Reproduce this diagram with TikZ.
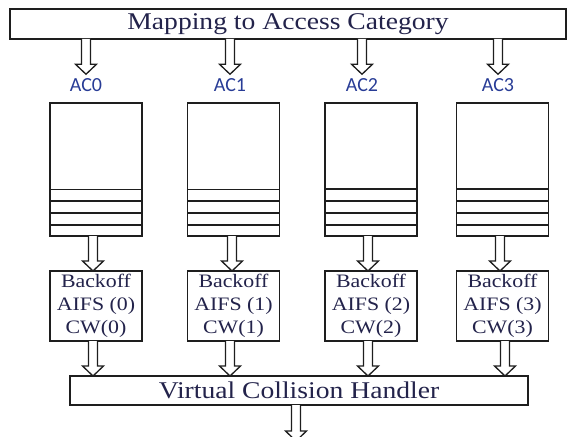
\documentclass[tikz,border=0pt]{standalone}
\usepackage{fontspec}
\setmainfont{Liberation Serif}
\newfontfamily\stserif[FakeStretch=1.15]{Liberation Serif}
\newfontfamily\acfont{Carlito}
\usetikzlibrary{calc}
\definecolor{txt}{RGB}{35,35,75}
\definecolor{actxt}{RGB}{40,60,150}
\definecolor{ln}{RGB}{30,30,30}
\tikzset{
  box/.style={draw=ln, line width=1.4pt, fill=white, inner sep=0pt, outer sep=0pt, text=txt},
  header/.style={box, font=\stserif\fontsize{24}{28}\selectfont},
  queue/.style={box, minimum width=92pt, minimum height=133pt},
  backoff/.style={box, minimum width=92pt, minimum height=70pt, align=center,
    font=\stserif\fontsize{19}{23}\selectfont},
  aclabel/.style={text=actxt, font=\acfont\fontsize{20}{24}\selectfont, inner xsep=0pt, inner ysep=4pt},
  harrow/.style={draw=ln, line width=1.3pt, fill=white, line join=miter},
  stripe/.style={draw=ln},
}
% hollow arrow: #1 = x position, #2 = start node/anchor, #3 = end node/anchor
\newcommand\hollowarrow[3]{%
  \draw[harrow] let \p1=(#2), \p2=(#3) in
    (#1pt-4.5pt,\y1) -- (#1pt-4.5pt,\y2+10pt) -- (#1pt-10.5pt,\y2+10pt) --
    (#1pt,\y2) -- (#1pt+10.5pt,\y2+10pt) -- (#1pt+4.5pt,\y2+10pt) --
    (#1pt+4.5pt,\y1);}
\begin{document}
\begin{tikzpicture}[x=1pt,y=-1pt]
  \useasboundingbox (0,0) rectangle (567,436);
  \clip (0,0) rectangle (567,436);

  \node[header, minimum width=556pt, minimum height=30pt] (map) at (288,24) {Mapping to Access Category};

  \node[aclabel] (l0) at (86,85) {AC0};
  \node[aclabel] (l1) at (230,85) {AC1};
  \node[aclabel] (l2) at (362,85) {AC2};
  \node[aclabel] (l3) at (498,85) {AC3};

  \node[queue] (q0) at (96,169.5) {};
  \node[queue] (q1) at (233.5,169.5) {};
  \node[queue] (q2) at (371,169.5) {};
  \node[queue] (q3) at (502.5,169.5) {};

  \foreach \q/\wa in {q0/0.9pt, q1/0.9pt, q2/1.8pt, q3/1.8pt} {
    \draw[stripe, line width=\wa] ($(\q.south west)+(0,-47)$) -- ($(\q.south east)+(0,-47)$);
    \draw[stripe, line width=1.5pt] ($(\q.south west)+(0,-35)$) -- ($(\q.south east)+(0,-35)$);
    \draw[stripe, line width=1.8pt] ($(\q.south west)+(0,-23)$) -- ($(\q.south east)+(0,-23)$);
    \draw[stripe, line width=2.6pt] ($(\q.south west)+(0,-11)$) -- ($(\q.south east)+(0,-11)$);
  }

  \node[backoff] (b0) at (96,306) {Backoff\\AIFS (0)\\CW(0)};
  \node[backoff] (b1) at (233.5,306) {Backoff\\AIFS (1)\\CW(1)};
  \node[backoff] (b2) at (371,306) {Backoff\\AIFS (2)\\CW(2)};
  \node[backoff] (b3) at (502.5,306) {Backoff\\AIFS (3)\\CW(3)};

  \node[header, minimum width=458pt, minimum height=29pt] (vch) at (299,390.5) {Virtual Collision Handler};
  \coordinate (out) at (296,441);

  \hollowarrow{86}{map.south}{l0.north}
  \hollowarrow{230}{map.south}{l1.north}
  \hollowarrow{362}{map.south}{l2.north}
  \hollowarrow{498}{map.south}{l3.north}

  \hollowarrow{93}{q0.south}{b0.north}
  \hollowarrow{232}{q1.south}{b1.north}
  \hollowarrow{368}{q2.south}{b2.north}
  \hollowarrow{500}{q3.south}{b3.north}

  \hollowarrow{93}{b0.south}{vch.north}
  \hollowarrow{230}{b1.south}{vch.north}
  \hollowarrow{368}{b2.south}{vch.north}
  \hollowarrow{505}{b3.south}{vch.north}

  \hollowarrow{296}{vch.south}{out}
\end{tikzpicture}
\end{document}
